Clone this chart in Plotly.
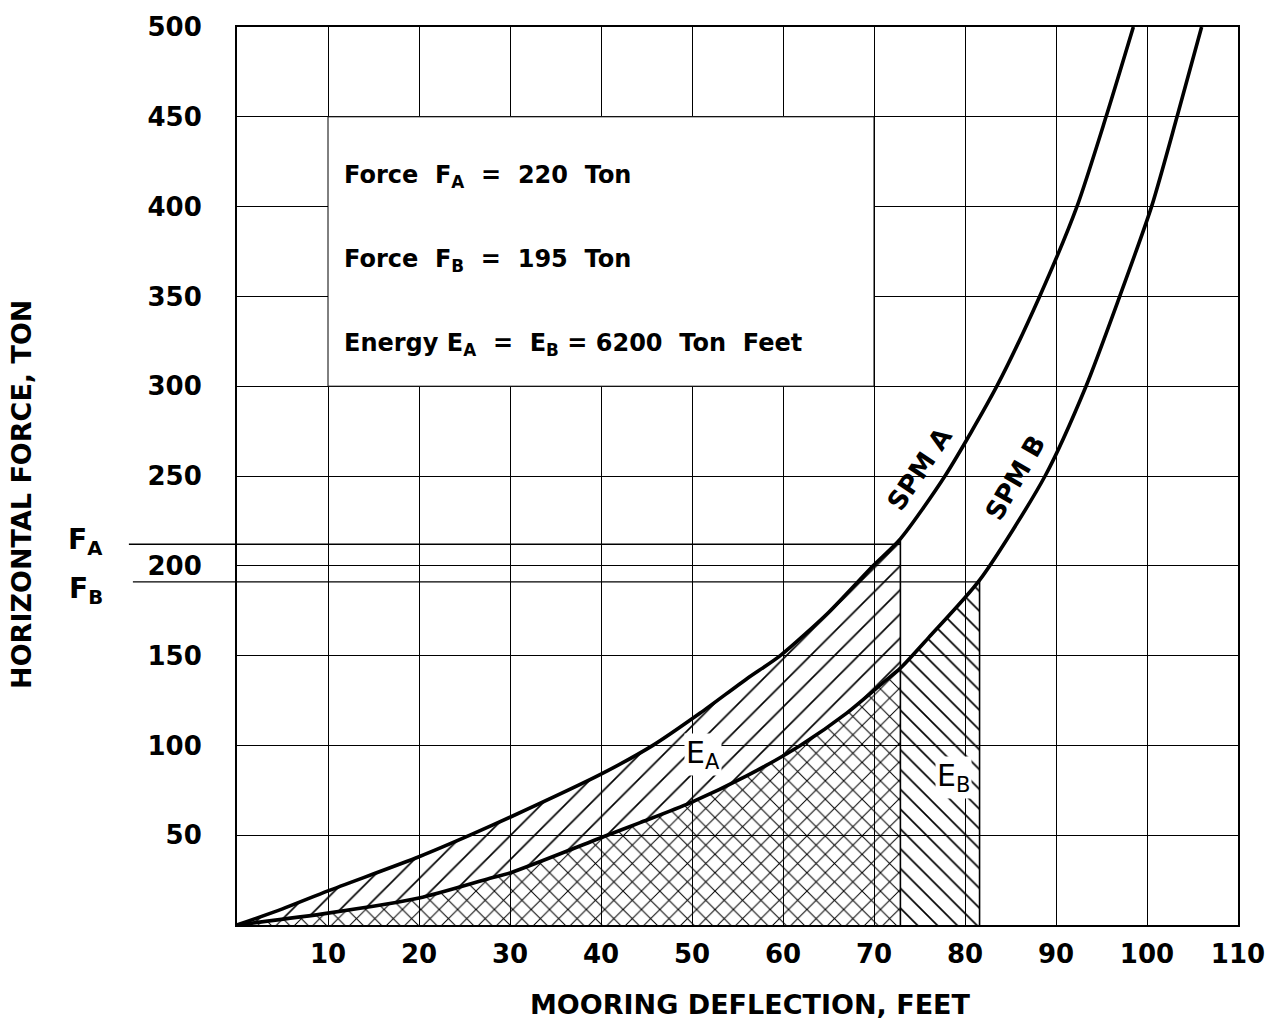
import plotly.graph_objects as go

# ---- data ----
spm_a_x = [0, 5, 10, 20, 25.6, 30, 40, 45.7, 50.9, 56, 59.7, 65, 69.9, 72.9, 77.8, 83.5, 88.2, 92.3, 95.5, 98.5]
spm_a_y = [0, 9, 19, 38, 50, 60, 84, 100, 118, 137, 150, 174, 200, 215, 250, 300, 350, 400, 450, 500]

spm_b_x = [0, 10, 20, 27.8, 30, 40.7, 44.3, 49.8, 56, 61.9, 67, 71, 72.9, 76, 81.6, 88.8, 93.3, 97, 100.5, 103.3, 106]
spm_b_y = [0, 6.6, 15, 26, 29, 50, 57, 68, 83, 100, 118, 135, 143, 160, 192, 250, 300, 350, 400, 450, 500]

ea_x = 72.9     # deflection limit for SPM A
eb_x = 81.6     # deflection limit for SPM B
fa_level = 212  # F_A level as drawn
fb_level = 191  # F_B level as drawn

x_ticks = [10, 20, 30, 40, 50, 60, 70, 80, 90, 100, 110]
y_ticks = [50, 100, 150, 200, 250, 300, 350, 400, 450, 500]

FONT = "DejaVu Sans"
NB = "\u00a0"

# ---- derived polygons ----
a_in = [(x, y) for x, y in zip(spm_a_x, spm_a_y) if x <= ea_x]
b_in = [(x, y) for x, y in zip(spm_b_x, spm_b_y) if x <= ea_x]
b_eb = [(x, y) for x, y in zip(spm_b_x, spm_b_y) if ea_x <= x <= eb_x]

ea_poly_x = [p[0] for p in a_in] + [p[0] for p in reversed(b_in)]
ea_poly_y = [p[1] for p in a_in] + [p[1] for p in reversed(b_in)]

cross_x = [p[0] for p in b_in] + [ea_x, 0]
cross_y = [p[1] for p in b_in] + [0, 0]

eb_poly_x = [p[0] for p in b_eb] + [eb_x, ea_x]
eb_poly_y = [p[1] for p in b_eb] + [0, 0]

a_at_ea = dict(zip(spm_a_x, spm_a_y))[ea_x]
b_at_eb = dict(zip(spm_b_x, spm_b_y))[eb_x]

fig = go.Figure()

def hatch(xs, ys, shape, size, solidity):
    fig.add_trace(go.Scatter(x=xs, y=ys, fill="toself", mode="lines",
                             line=dict(width=0, color="rgba(0,0,0,0)"),
                             fillcolor="rgba(0,0,0,0)",
                             fillpattern=dict(shape=shape, size=size, solidity=solidity,
                                              fgcolor="black", fgopacity=1),
                             hoverinfo="skip", showlegend=False))

hatch(ea_poly_x, ea_poly_y, "/", 17, 0.1)
hatch(cross_x, cross_y, "x", 13, 0.15)
hatch(eb_poly_x, eb_poly_y, "\\", 14, 0.12)

def seg(xs, ys, w):
    fig.add_trace(go.Scatter(x=xs, y=ys, mode="lines", line=dict(color="black", width=w),
                             hoverinfo="skip", showlegend=False))

# vertical limit lines
seg([ea_x, ea_x], [0, a_at_ea], 1.6)
seg([eb_x, eb_x], [0, b_at_eb], 1.6)
# force level lines inside the plot
seg([0, ea_x], [fa_level, fa_level], 1.3)
seg([0, eb_x], [fb_level, fb_level], 1.3)

# curves
fig.add_trace(go.Scatter(x=spm_a_x, y=spm_a_y, mode="lines", name="SPM A",
                         line=dict(color="black", width=3.6, shape="spline", smoothing=0.7),
                         showlegend=False))
fig.add_trace(go.Scatter(x=spm_b_x, y=spm_b_y, mode="lines", name="SPM B",
                         line=dict(color="black", width=3.6, shape="spline", smoothing=0.7),
                         showlegend=False))

shapes = [
    dict(type="rect", xref="x", yref="y", x0=10, x1=70, y0=300, y1=450,
         fillcolor="white", line=dict(color="black", width=1), layer="above"),
    dict(type="line", xref="paper", yref="y", x0=-0.108, x1=0, y0=fa_level, y1=fa_level,
         line=dict(color="black", width=1.3)),
    dict(type="line", xref="paper", yref="y", x0=-0.104, x1=0, y0=fb_level, y1=fb_level,
         line=dict(color="black", width=1.3)),
]

box_font = dict(family=FONT, size=24, color="black", weight="bold")

def ann(text, x, y, xref="x", yref="y", **kw):
    d = dict(text=text, x=x, y=y, xref=xref, yref=yref, showarrow=False,
             xanchor=kw.pop("xanchor", "center"), yanchor=kw.pop("yanchor", "middle"))
    d.update(kw)
    return d

annotations = [
    ann(f"Force{NB} F<sub>A</sub>{NB} ={NB} 220{NB} Ton", 11.5, 417, xanchor="left", font=box_font),
    ann(f"Force{NB} F<sub>B</sub>{NB} ={NB} 195{NB} Ton", 11.5, 370, xanchor="left", font=box_font),
    ann(f"Energy E<sub>A</sub>{NB} ={NB} E<sub>B</sub> = 6200{NB} Ton{NB} Feet", 11.5, 323,
        xanchor="left", font=box_font),
    ann("SPM A", 75.0, 254, textangle=-56,
        font=dict(family=FONT, size=26, color="black", weight="bold")),
    ann("SPM B", 85.5, 249, textangle=-60,
        font=dict(family=FONT, size=26, color="black", weight="bold")),
    ann("E<sub>A</sub>", 51.2, 95, bgcolor="white",
        font=dict(family=FONT, size=30, color="black")),
    ann("E<sub>B</sub>", 78.7, 82, bgcolor="white",
        font=dict(family=FONT, size=30, color="black")),
    ann("F<sub>A</sub>", -0.151, 213.5, xref="paper",
        font=dict(family=FONT, size=28, color="black", weight="bold")),
    ann("F<sub>B</sub>", -0.151, 186, xref="paper",
        font=dict(family=FONT, size=28, color="black", weight="bold")),
    ann("HORIZONTAL FORCE, TON", -0.2148, 0.48, xref="paper", yref="paper", textangle=-90,
        font=dict(family=FONT, size=27, color="black", weight="bold")),
    ann("MOORING DEFLECTION, FEET", 0.5125, -0.0885, xref="paper", yref="paper",
        font=dict(family=FONT, size=27, color="black", weight="bold")),
]

fig.update_layout(
    width=1282, height=1025, autosize=False,
    margin=dict(l=237, r=44, t=21, b=100),
    paper_bgcolor="white", plot_bgcolor="white",
    shapes=shapes, annotations=annotations,
    font=dict(family=FONT, color="black"),
)
fig.update_xaxes(range=[0, 110], tickvals=x_ticks, ticktext=[str(v) for v in x_ticks],
                 showgrid=True, gridcolor="black", gridwidth=1,
                 showline=True, linecolor="black", linewidth=2, mirror=True,
                 ticks="", ticklabelstandoff=5, zeroline=False,
                 tickfont=dict(family=FONT, size=26, color="black", weight="bold"))
fig.update_yaxes(range=[0, 500], tickvals=y_ticks, ticktext=[str(v) for v in y_ticks],
                 showgrid=True, gridcolor="black", gridwidth=1,
                 showline=True, linecolor="black", linewidth=2, mirror=True,
                 ticks="", ticklabelstandoff=28, zeroline=False,
                 tickfont=dict(family=FONT, size=26, color="black", weight="bold"))

fig.write_html("out.html")
